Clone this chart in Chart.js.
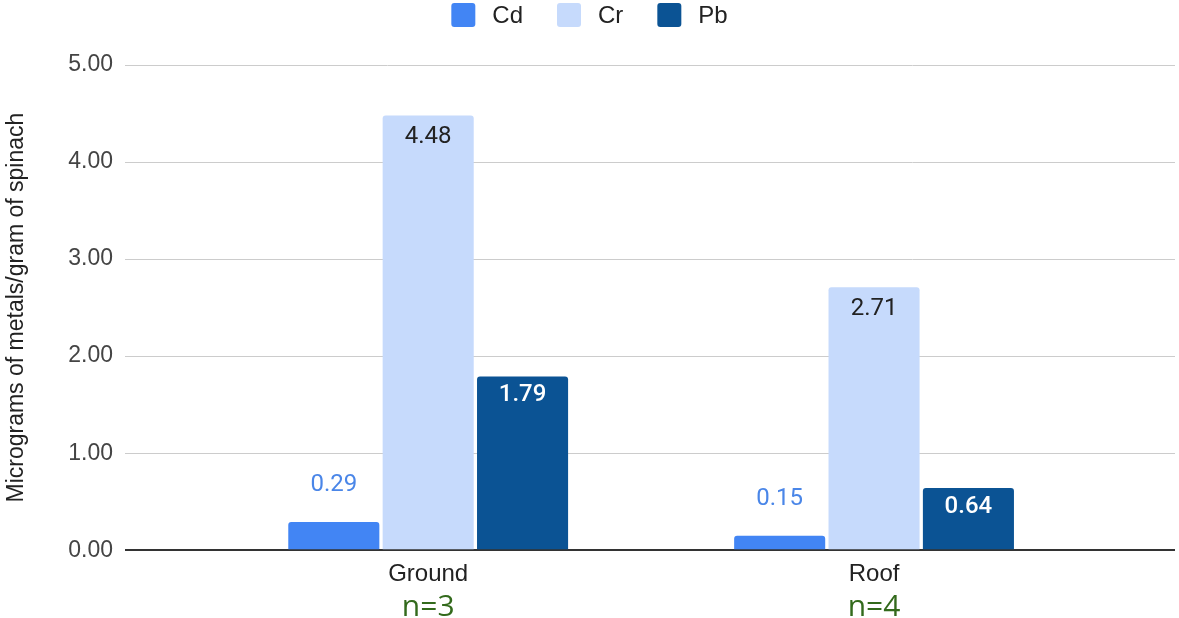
<!DOCTYPE html>
<html><head><meta charset="utf-8">
<script src="https://cdn.jsdelivr.net/npm/chart.js@4/dist/chart.umd.min.js"></script>
<style>html,body{margin:0;padding:0;background:#fff}canvas{display:block}</style>
</head><body>
<canvas id="c" width="1179" height="618"></canvas>
<script>
const categories = ['Ground', 'Roof'];
const sampleSizes = ['n=3', 'n=4'];
const seriesNames = ['Cd', 'Cr', 'Pb'];
const cdValues = [0.29, 0.15];
const crValues = [4.48, 2.71];
const pbValues = [1.79, 0.64];
const yTickValues = [0, 1, 2, 3, 4, 5];
const yAxisTitle = 'Micrograms of metals/gram of spinach';

const seriesColors = ['#4285F4', '#C6DAFC', '#0B5394'];
const toPoints = vals => categories.map((c, i) => ({ x: i, y: vals[i] }));

const labelStyles = [
  { color: '#4A86E8', weight: '400', offset: -37 },
  { color: '#222222', weight: '400', offset: 22 },
  { color: '#FFFFFF', weight: '500', offset: 19 }
];

const valueLabelPlugin = {
  id: 'valueLabels',
  afterDatasetsDraw(chart) {
    const ctx = chart.ctx;
    ctx.save();
    ctx.textAlign = 'center';
    ctx.textBaseline = 'middle';
    chart.data.datasets.forEach((ds, di) => {
      const st = labelStyles[di];
      const meta = chart.getDatasetMeta(di);
      ctx.font = st.weight + ' 24px Roboto';
      ctx.fillStyle = st.color;
      meta.data.forEach((bar, i) => {
        ctx.fillText(ds.data[i].y.toFixed(2), bar.x, bar.y + st.offset);
      });
    });
    ctx.restore();
  }
};

const extrasPlugin = {
  id: 'extras',
  afterDraw(chart) {
    const ctx = chart.ctx;
    ctx.save();
    const xs = chart.scales.x;
    ctx.font = '30px "Open Sans"';
    ctx.fillStyle = '#336A1C';
    ctx.textAlign = 'center';
    ctx.textBaseline = 'alphabetic';
    sampleSizes.forEach((t, i) => {
      ctx.fillText(t, xs.getPixelForValue(i), 616);
    });
    ctx.font = '24px "Liberation Sans"';
    const box = 24, gapText = 17, gapItem = 34;
    const items = chart.data.datasets.map(d => ({ text: d.label, color: d.backgroundColor, w: ctx.measureText(d.label).width }));
    const total = items.reduce((s, it) => s + box + gapText + it.w, 0) + gapItem * (items.length - 1);
    let x = (chart.width - total) / 2;
    ctx.textAlign = 'left';
    ctx.textBaseline = 'middle';
    items.forEach(it => {
      ctx.fillStyle = it.color;
      ctx.beginPath();
      if (ctx.roundRect) ctx.roundRect(x, 3, box, box, 3); else ctx.rect(x, 3, box, box);
      ctx.fill();
      ctx.fillStyle = '#222222';
      ctx.fillText(it.text, x + box + gapText, 16);
      x += box + gapText + it.w + gapItem;
    });
    ctx.restore();
  }
};

new Chart(document.getElementById('c'), {
  type: 'bar',
  data: {
    datasets: seriesNames.map((name, k) => ({
      label: name,
      data: toPoints([cdValues, crValues, pbValues][k]),
      backgroundColor: seriesColors[k],
      borderRadius: 3,
      categoryPercentage: 0.635,
      barPercentage: 0.965
    }))
  },
  options: {
    responsive: false,
    animation: false,
    layout: { padding: { top: 65, right: 4, bottom: 19, left: 0 } },
    plugins: { legend: { display: false }, tooltip: { enabled: false } },
    scales: {
      x: {
        type: 'linear',
        min: -0.68,
        max: 1.675,
        bounds: 'data',
        offset: false,
        grid: { display: false, drawTicks: false },
        border: { display: false },
        afterBuildTicks: s => { s.ticks = categories.map((c, i) => ({ value: i })); },
        ticks: {
          callback: v => categories[v],
          font: { family: 'Liberation Sans', size: 24 },
          color: '#222222',
          padding: 10,
          maxRotation: 0,
          autoSkip: false
        }
      },
      y: {
        min: 0,
        max: 5,
        afterBuildTicks: s => { s.ticks = yTickValues.map(v => ({ value: v })); },
        afterFit: s => { s.width = 125; },
        ticks: {
          callback: v => Number(v).toFixed(2),
          font: { family: 'Liberation Sans', size: 23 },
          color: '#444444',
          padding: 12
        },
        grid: {
          color: c => c.tick && c.tick.value === 0 ? '#333333' : '#CCCCCC',
          lineWidth: c => c.tick && c.tick.value === 0 ? 2 : 1,
          drawTicks: false
        },
        border: { display: false },
        title: {
          display: true,
          text: yAxisTitle,
          font: { family: 'Liberation Sans', size: 23 },
          color: '#222222',
          padding: { top: 3, bottom: 0 }
        }
      }
    }
  },
  plugins: [valueLabelPlugin, extrasPlugin]
});
</script>
</body></html>
